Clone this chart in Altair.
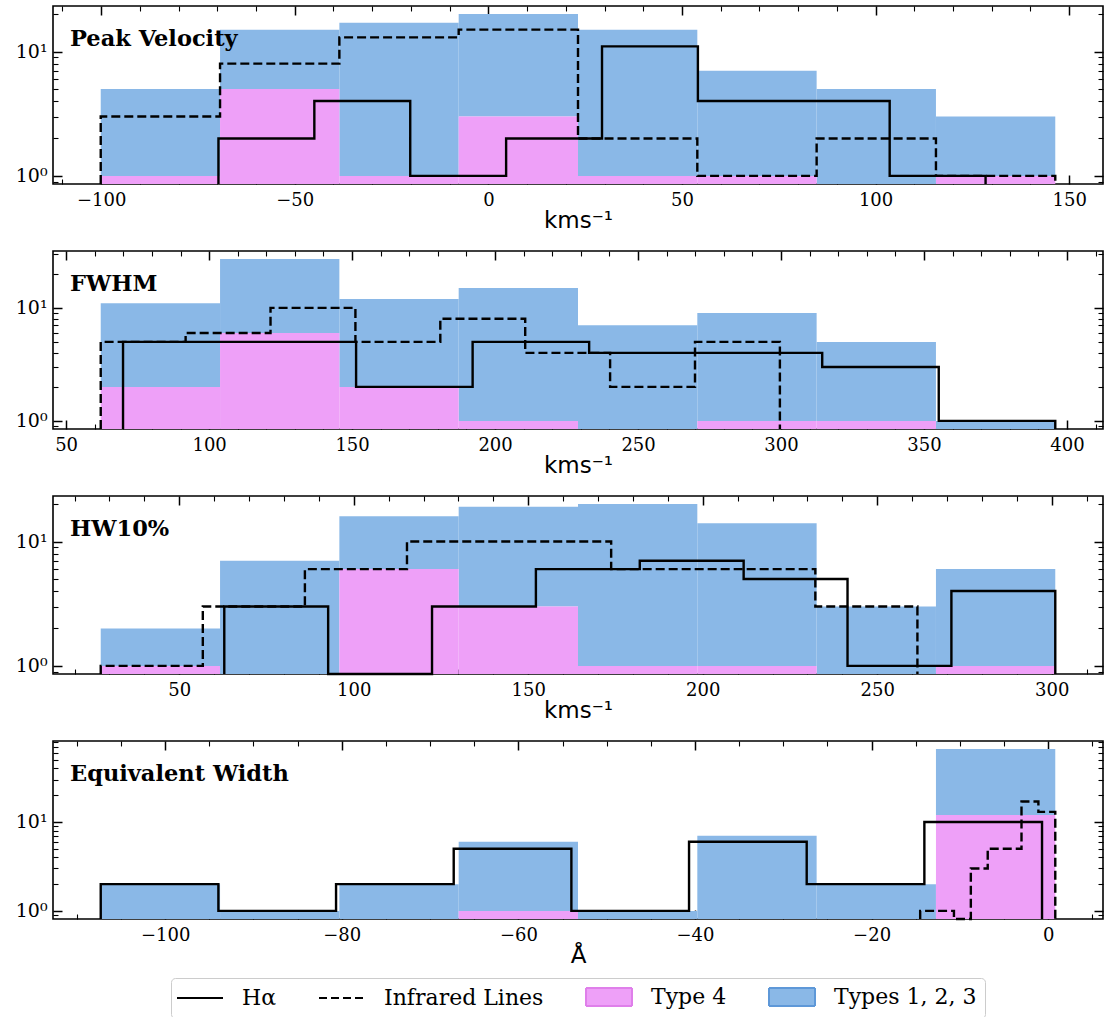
import math
import altair as alt
import numpy as np
import pandas as pd

# ---------------- data ----------------
PANEL_TITLES = ["Peak Velocity", "FWHM", "HW10%", "Equivalent Width"]
X_TITLES = ["kms⁻¹", "kms⁻¹", "kms⁻¹", "Å"]
X_MAJOR = [50, 50, 50, 20]
X_MINOR = [10, 10, 10, 5]

SERIES = ["Hα", "Infrared Lines", "Type 4", "Types 1, 2, 3"]

# H-alpha step histograms: (first edge, last edge), 8 bins each
ha_range = [(-69.7, 128.4), (69.9, 395.9), (62.9, 301.0), (-107.3, -0.7)]
ha_counts = [
    [2, 4, 1, 2, 11, 4, 4, 1],
    [5, 5, 2, 5, 4, 4, 3, 1],
    [3, 0, 3, 6, 7, 5, 1, 4],
    [2, 1, 2, 5, 1, 6, 2, 10],
]
# Infrared lines step histograms
ir_range = [(-100.1, 146.4), (62.1, 299.6), (27.5, 261.5), (-14.5, 0.8)]
ir_counts = [
    [3, 8, 13, 15, 2, 1, 2, 1],
    [5, 6, 10, 5, 8, 4, 2, 5],
    [1, 3, 6, 10, 10, 6, 6, 3],
    [1, 1, 0, 3, 5, 5, 17, 13],
]
# stacked type histograms (bins span the combined range of both line samples)
type4_counts = [
    [1, 5, 1, 3, 1, 1, 0, 1],
    [2, 6, 2, 1, 0, 1, 1, 0],
    [1, 0, 6, 3, 1, 1, 0, 1],
    [0, 0, 0, 1, 0, 0, 0, 12],
]
types123_counts = [
    [4, 10, 16, 17, 14, 6, 5, 2],
    [9, 21, 10, 14, 7, 8, 4, 1],
    [1, 7, 10, 16, 19, 13, 3, 5],
    [2, 1, 2, 5, 1, 7, 2, 54],
]

# ---------------- styling ----------------
BLUE = "#8AB8E7"
PINK = "#EEA0F8"
BLUE_EDGE = "#5E98D8"
PINK_EDGE = "#DF7FEA"
SERIF = "DejaVu Serif"
SANS = "DejaVu Sans"
W, H = 1050, 178
MAJ, MIN = 9, 5


def edges(lo, hi, n):
    return np.linspace(lo, hi, n + 1)


def step_frame(lo, hi, counts, base):
    e = edges(lo, hi, len(counts))
    xs, ys = [e[0]], [base]
    for k, c in enumerate(counts):
        v = c if c > 0 else base
        xs += [e[k], e[k + 1]]
        ys += [v, v]
    xs.append(e[-1])
    ys.append(base)
    return pd.DataFrame({"x": xs, "y": ys, "order": list(range(len(xs)))})


def panel(i):
    ha_lo, ha_hi = ha_range[i]
    ir_lo, ir_hi = ir_range[i]
    lo, hi = min(ha_lo, ir_lo), max(ha_hi, ir_hi)
    pad = 0.05 * (hi - lo)
    xdom = [lo - pad, hi + pad]

    t4 = np.array(type4_counts[i])
    t123 = np.array(types123_counts[i])
    total = t4 + t123
    L = math.log10(total.max())
    ydom = [10 ** (-0.05 * L), 10 ** (1.05 * L)]
    base = ydom[0]

    e = edges(lo, hi, len(total))
    bars = pd.DataFrame({
        "x": e[:-1], "x2": e[1:],
        "total": total,
        "t4": t4,
        "blue_bottom": np.where(t4 > 0, t4, base),
        "base": base,
    })
    pink = bars[bars["t4"] > 0]

    xs = alt.Scale(domain=xdom, nice=False, zero=False)
    ys = alt.Scale(type="log", domain=ydom, nice=False, clamp=True)

    major, minor = X_MAJOR[i], X_MINOR[i]
    start = math.ceil(xdom[0] / minor) * minor
    xt = [v for v in range(int(start), int(xdom[1]) + 1, minor) if xdom[0] <= v <= xdom[1]]
    xmaj = [v for v in xt if v % major == 0]
    yt = []
    for k in range(-1, 3):
        for m in range(1, 10):
            v = round(m * 10.0 ** k, 6)
            if ydom[0] <= v <= ydom[1]:
                yt.append(v)

    xcond = {"condition": {"test": f"datum.value % {major} === 0", "value": MAJ}, "value": MIN}
    xwcond = {"condition": {"test": f"datum.value % {major} === 0", "value": 1.5}, "value": 1.1}
    ytest = "abs(log(datum.value)/LN10 - round(log(datum.value)/LN10)) < 1e-6"
    ycond = {"condition": {"test": ytest, "value": MAJ}, "value": MIN}
    ywcond = {"condition": {"test": ytest, "value": 1.5}, "value": 1.1}

    lab_x = alt.Axis(values=xmaj, format="d", ticks=False, domain=False, grid=False,
                     labelFont=SERIF, labelFontSize=18, labelColor="black", labelPadding=7,
                     labelFlush=False, labelOverlap=False,
                     titleFont=SANS, titleFontSize=23, titleFontWeight="normal",
                     titleColor="black", titlePadding=0)
    lab_y = alt.Axis(values=[1, 10], labelExpr="datum.value == 1 ? '10⁰' : '10¹'",
                     ticks=False, domain=False, grid=False, labelFont=SERIF,
                     labelFontSize=19, labelColor="black", labelPadding=6)

    def tick_x(orient):
        return alt.Axis(orient=orient, offset=-H, values=xt, labels=False, domain=False,
                        grid=False, ticks=True, tickColor="black", tickSize=xcond, tickWidth=xwcond)

    def tick_y(orient):
        return alt.Axis(orient=orient, offset=-W, values=yt, labels=False, domain=False,
                        grid=False, ticks=True, tickColor="black", tickSize=ycond, tickWidth=ywcond)

    blue_layer = alt.Chart(bars).mark_rect(color=BLUE).encode(
        x=alt.X("x:Q", scale=xs, axis=lab_x, title=X_TITLES[i]),
        x2="x2:Q",
        y=alt.Y("total:Q", scale=ys, axis=lab_y, title=None),
        y2="blue_bottom:Q",
    )
    pink_layer = alt.Chart(pink).mark_rect(color=PINK).encode(
        x=alt.X("x:Q", scale=xs, axis=tick_x("top"), title=None),
        x2="x2:Q",
        y=alt.Y("t4:Q", scale=ys, axis=tick_y("right"), title=None),
        y2="base:Q",
    )
    ir_layer = alt.Chart(step_frame(ir_lo, ir_hi, ir_counts[i], base)).mark_line(
        color="black", strokeWidth=2.4, strokeDash=[9, 4], strokeJoin="miter", strokeCap="butt"
    ).encode(
        x=alt.X("x:Q", scale=xs, axis=tick_x("bottom"), title=None),
        y=alt.Y("y:Q", scale=ys, axis=tick_y("left"), title=None),
        order="order:Q",
    )
    ha_layer = alt.Chart(step_frame(ha_lo, ha_hi, ha_counts[i], base)).mark_line(
        color="black", strokeWidth=2.4, strokeJoin="miter", strokeCap="butt"
    ).encode(
        x=alt.X("x:Q", scale=xs, axis=None),
        y=alt.Y("y:Q", scale=ys, axis=None),
        order="order:Q",
    )
    title_layer = alt.Chart(pd.DataFrame({"t": [PANEL_TITLES[i]]})).mark_text(
        align="left", baseline="alphabetic", font=SERIF, fontWeight="bold",
        fontSize=22.5, color="black"
    ).encode(x=alt.value(17), y=alt.value(40), text="t:N")

    layers = [blue_layer, pink_layer, ir_layer, ha_layer, title_layer]

    if i == 3:
        leg = alt.Legend(orient="none", legendX=118, legendY=237, direction="horizontal",
                         columns=4, title=None, labelFont=SERIF, labelFontSize=22,
                         labelColor="black", labelLimit=400, symbolSize=400,
                         symbolOffset=10, symbolStrokeWidth=2, labelOffset=31,
                         columnPadding=38, padding=8, strokeColor="#cccccc",
                         fillColor="white", cornerRadius=4)
        line_p = "M-2.3,0L2.3,0"
        rect_p = "M-2.3,-0.9L2.3,-0.9L2.3,0.9L-2.3,0.9Z"
        legend_layer = alt.Chart(pd.DataFrame({"series": SERIES})).transform_filter(
            "false").mark_point(opacity=1).encode(
            shape=alt.Shape("series:N", scale=alt.Scale(domain=SERIES, range=[line_p, line_p, rect_p, rect_p]), legend=leg),
            fill=alt.Fill("series:N", scale=alt.Scale(domain=SERIES, range=["transparent", "transparent", PINK, BLUE]), legend=leg),
            stroke=alt.Stroke("series:N", scale=alt.Scale(domain=SERIES, range=["black", "black", PINK_EDGE, BLUE_EDGE]), legend=leg),
            strokeDash=alt.StrokeDash("series:N", scale=alt.Scale(domain=SERIES, range=[[1, 0], [8, 4], [1, 0], [1, 0]]), legend=leg),
        )
        layers.append(legend_layer)

    return alt.layer(*layers).resolve_axis(x="independent", y="independent").properties(
        width=W, height=H)


chart = alt.vconcat(*[panel(i) for i in range(4)], spacing=67, bounds="flush").resolve_scale(
    shape="independent", fill="independent", stroke="independent", strokeDash="independent"
).resolve_legend(
    shape="independent", fill="independent", stroke="independent", strokeDash="independent"
).properties(
    padding={"left": 14, "top": 4, "right": 0, "bottom": 0}
).configure_view(stroke="black", strokeWidth=1.6)

chart.save("out.html", embed_options={"renderer": "svg", "actions": False})
